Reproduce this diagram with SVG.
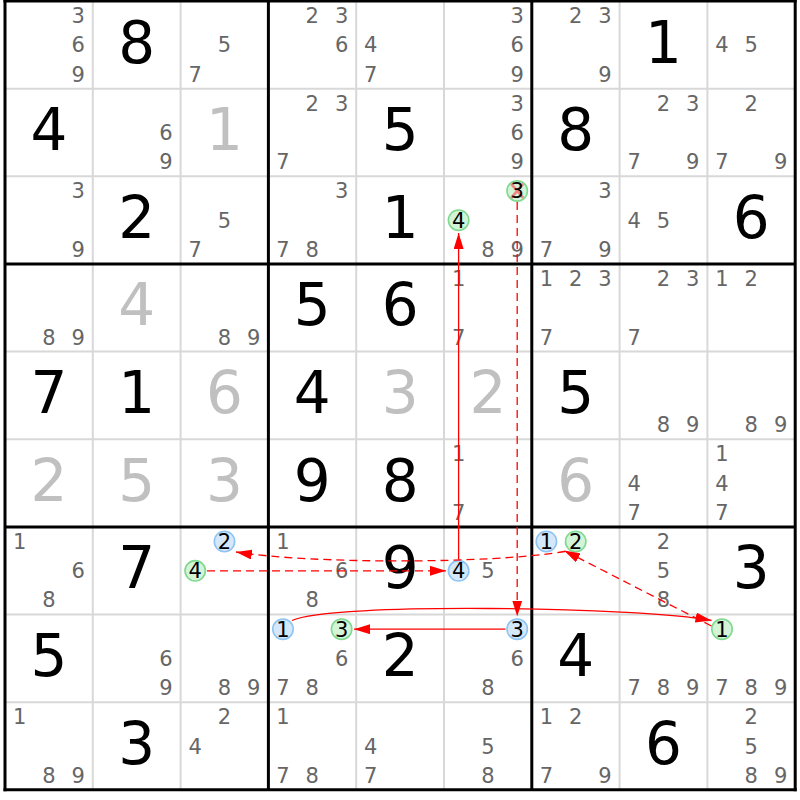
<svg xmlns="http://www.w3.org/2000/svg" width="800" height="800" viewBox="0 0 800 800">
<defs>
<style>
text{font-family:"DejaVu Sans","Liberation Sans",sans-serif;text-anchor:middle}
.c{font-size:21px;fill:#666}
.k{font-size:21px;fill:#000}
.g{font-size:58px;fill:#000}
.s{font-size:58px;fill:#c0c0c0}
.cb{fill:#d5e8fa;stroke:#8ec4f2;stroke-width:1.6}
.cg{fill:#d3f4d7;stroke:#7fd98f;stroke-width:1.6}
.thin{stroke:#d8d8d8;stroke-width:2}
.thick{stroke:#000;stroke-width:3}
.ln{fill:none;stroke:#f00;stroke-width:1.3}
.d{stroke-dasharray:8,5}
</style>
<marker id="ah" markerUnits="userSpaceOnUse" markerWidth="16" markerHeight="10" refX="16" refY="5" orient="auto"><path d="M0,0 L16,5 L0,10 Z" fill="#f00"/></marker>
</defs>
<rect width="800" height="800" fill="#fff"/>
<g id="grid">
<g class="thin">
<line x1="92.8" y1="1" x2="92.8" y2="789.9"/><line x1="180.6" y1="1" x2="180.6" y2="789.9"/>
<line x1="356.2" y1="1" x2="356.2" y2="789.9"/><line x1="444" y1="1" x2="444" y2="789.9"/>
<line x1="619.6" y1="1" x2="619.6" y2="789.9"/><line x1="707.4" y1="1" x2="707.4" y2="789.9"/>
<line x1="5" y1="88.65" x2="795.2" y2="88.65"/><line x1="5" y1="176.3" x2="795.2" y2="176.3"/>
<line x1="5" y1="351.6" x2="795.2" y2="351.6"/><line x1="5" y1="439.25" x2="795.2" y2="439.25"/>
<line x1="5" y1="614.55" x2="795.2" y2="614.55"/><line x1="5" y1="702.2" x2="795.2" y2="702.2"/>
</g>
<g class="thick">
<line x1="5" y1="-0.5" x2="5" y2="791.3"/><line x1="268.4" y1="1" x2="268.4" y2="789.9"/>
<line x1="531.8" y1="1" x2="531.8" y2="789.9"/><line x1="795.2" y1="-0.5" x2="795.2" y2="791.3"/>
<line x1="3.5" y1="1" x2="796.7" y2="1"/><line x1="5" y1="263.95" x2="795.2" y2="263.95"/>
<line x1="5" y1="526.9" x2="795.2" y2="526.9"/><line x1="3.5" y1="789.85" x2="796.7" y2="789.85"/>
</g>
</g>
<!-- row 1 -->
<g id="r1c1" transform="translate(5,1)"><text class="c" x="73.2" y="22.1">3</text><text class="c" x="73.2" y="51.4">6</text><text class="c" x="73.2" y="80.6">9</text></g>
<g id="r1c2" transform="translate(92.8,1)"><text class="g" x="43.9" y="61.5">8</text></g>
<g id="r1c3" transform="translate(180.6,1)"><text class="c" x="43.9" y="51.4">5</text><text class="c" x="14.6" y="80.6">7</text></g>
<g id="r1c4" transform="translate(268.4,1)"><text class="c" x="43.9" y="22.1">2</text><text class="c" x="73.2" y="22.1">3</text><text class="c" x="73.2" y="51.4">6</text></g>
<g id="r1c5" transform="translate(356.2,1)"><text class="c" x="14.6" y="51.4">4</text><text class="c" x="14.6" y="80.6">7</text></g>
<g id="r1c6" transform="translate(444,1)"><text class="c" x="73.2" y="22.1">3</text><text class="c" x="73.2" y="51.4">6</text><text class="c" x="73.2" y="80.6">9</text></g>
<g id="r1c7" transform="translate(531.8,1)"><text class="c" x="43.9" y="22.1">2</text><text class="c" x="73.2" y="22.1">3</text><text class="c" x="73.2" y="80.6">9</text></g>
<g id="r1c8" transform="translate(619.6,1)"><text class="g" x="43.9" y="61.5">1</text></g>
<g id="r1c9" transform="translate(707.4,1)"><text class="c" x="14.6" y="51.4">4</text><text class="c" x="43.9" y="51.4">5</text></g>
<!-- row 2 -->
<g id="r2c1" transform="translate(5,88.65)"><text class="g" x="43.9" y="61.5">4</text></g>
<g id="r2c2" transform="translate(92.8,88.65)"><text class="c" x="73.2" y="51.4">6</text><text class="c" x="73.2" y="80.6">9</text></g>
<g id="r2c3" transform="translate(180.6,88.65)"><text class="s" x="43.9" y="61.5">1</text></g>
<g id="r2c4" transform="translate(268.4,88.65)"><text class="c" x="43.9" y="22.1">2</text><text class="c" x="73.2" y="22.1">3</text><text class="c" x="14.6" y="80.6">7</text></g>
<g id="r2c5" transform="translate(356.2,88.65)"><text class="g" x="43.9" y="61.5">5</text></g>
<g id="r2c6" transform="translate(444,88.65)"><text class="c" x="73.2" y="22.1">3</text><text class="c" x="73.2" y="51.4">6</text><text class="c" x="73.2" y="80.6">9</text></g>
<g id="r2c7" transform="translate(531.8,88.65)"><text class="g" x="43.9" y="61.5">8</text></g>
<g id="r2c8" transform="translate(619.6,88.65)"><text class="c" x="43.9" y="22.1">2</text><text class="c" x="73.2" y="22.1">3</text><text class="c" x="14.6" y="80.6">7</text><text class="c" x="73.2" y="80.6">9</text></g>
<g id="r2c9" transform="translate(707.4,88.65)"><text class="c" x="43.9" y="22.1">2</text><text class="c" x="14.6" y="80.6">7</text><text class="c" x="73.2" y="80.6">9</text></g>
<!-- row 3 -->
<g id="r3c1" transform="translate(5,176.3)"><text class="c" x="73.2" y="22.1">3</text><text class="c" x="73.2" y="80.6">9</text></g>
<g id="r3c2" transform="translate(92.8,176.3)"><text class="g" x="43.9" y="61.5">2</text></g>
<g id="r3c3" transform="translate(180.6,176.3)"><text class="c" x="43.9" y="51.4">5</text><text class="c" x="14.6" y="80.6">7</text></g>
<g id="r3c4" transform="translate(268.4,176.3)"><text class="c" x="73.2" y="22.1">3</text><text class="c" x="14.6" y="80.6">7</text><text class="c" x="43.9" y="80.6">8</text></g>
<g id="r3c5" transform="translate(356.2,176.3)"><text class="g" x="43.9" y="61.5">1</text></g>
<g id="r3c6" transform="translate(444,176.3)"><circle class="cg" cx="73.2" cy="14.6" r="10.2"/><path d="M67.2,7.6 L79.2,21.6 M79.2,7.6 L67.2,21.6" stroke="#f08585" stroke-width="2.6" fill="none"/><text class="k" x="73.2" y="22.1">3</text><circle class="cg" cx="14.6" cy="43.9" r="10.2"/><text class="k" x="14.6" y="51.4">4</text><text class="c" x="43.9" y="80.6">8</text><text class="c" x="73.2" y="80.6">9</text></g>
<g id="r3c7" transform="translate(531.8,176.3)"><text class="c" x="73.2" y="22.1">3</text><text class="c" x="14.6" y="80.6">7</text><text class="c" x="73.2" y="80.6">9</text></g>
<g id="r3c8" transform="translate(619.6,176.3)"><text class="c" x="14.6" y="51.4">4</text><text class="c" x="43.9" y="51.4">5</text></g>
<g id="r3c9" transform="translate(707.4,176.3)"><text class="g" x="43.9" y="61.5">6</text></g>
<!-- row 4 -->
<g id="r4c1" transform="translate(5,263.95)"><text class="c" x="43.9" y="80.6">8</text><text class="c" x="73.2" y="80.6">9</text></g>
<g id="r4c2" transform="translate(92.8,263.95)"><text class="s" x="43.9" y="61.5">4</text></g>
<g id="r4c3" transform="translate(180.6,263.95)"><text class="c" x="43.9" y="80.6">8</text><text class="c" x="73.2" y="80.6">9</text></g>
<g id="r4c4" transform="translate(268.4,263.95)"><text class="g" x="43.9" y="61.5">5</text></g>
<g id="r4c5" transform="translate(356.2,263.95)"><text class="g" x="43.9" y="61.5">6</text></g>
<g id="r4c6" transform="translate(444,263.95)"><text class="c" x="14.6" y="22.1">1</text><text class="c" x="14.6" y="80.6">7</text></g>
<g id="r4c7" transform="translate(531.8,263.95)"><text class="c" x="14.6" y="22.1">1</text><text class="c" x="43.9" y="22.1">2</text><text class="c" x="73.2" y="22.1">3</text><text class="c" x="14.6" y="80.6">7</text></g>
<g id="r4c8" transform="translate(619.6,263.95)"><text class="c" x="43.9" y="22.1">2</text><text class="c" x="73.2" y="22.1">3</text><text class="c" x="14.6" y="80.6">7</text></g>
<g id="r4c9" transform="translate(707.4,263.95)"><text class="c" x="14.6" y="22.1">1</text><text class="c" x="43.9" y="22.1">2</text></g>
<!-- row 5 -->
<g id="r5c1" transform="translate(5,351.6)"><text class="g" x="43.9" y="61.5">7</text></g>
<g id="r5c2" transform="translate(92.8,351.6)"><text class="g" x="43.9" y="61.5">1</text></g>
<g id="r5c3" transform="translate(180.6,351.6)"><text class="s" x="43.9" y="61.5">6</text></g>
<g id="r5c4" transform="translate(268.4,351.6)"><text class="g" x="43.9" y="61.5">4</text></g>
<g id="r5c5" transform="translate(356.2,351.6)"><text class="s" x="43.9" y="61.5">3</text></g>
<g id="r5c6" transform="translate(444,351.6)"><text class="s" x="43.9" y="61.5">2</text></g>
<g id="r5c7" transform="translate(531.8,351.6)"><text class="g" x="43.9" y="61.5">5</text></g>
<g id="r5c8" transform="translate(619.6,351.6)"><text class="c" x="43.9" y="80.6">8</text><text class="c" x="73.2" y="80.6">9</text></g>
<g id="r5c9" transform="translate(707.4,351.6)"><text class="c" x="43.9" y="80.6">8</text><text class="c" x="73.2" y="80.6">9</text></g>
<!-- row 6 -->
<g id="r6c1" transform="translate(5,439.25)"><text class="s" x="43.9" y="61.5">2</text></g>
<g id="r6c2" transform="translate(92.8,439.25)"><text class="s" x="43.9" y="61.5">5</text></g>
<g id="r6c3" transform="translate(180.6,439.25)"><text class="s" x="43.9" y="61.5">3</text></g>
<g id="r6c4" transform="translate(268.4,439.25)"><text class="g" x="43.9" y="61.5">9</text></g>
<g id="r6c5" transform="translate(356.2,439.25)"><text class="g" x="43.9" y="61.5">8</text></g>
<g id="r6c6" transform="translate(444,439.25)"><text class="c" x="14.6" y="22.1">1</text><text class="c" x="14.6" y="80.6">7</text></g>
<g id="r6c7" transform="translate(531.8,439.25)"><text class="s" x="43.9" y="61.5">6</text></g>
<g id="r6c8" transform="translate(619.6,439.25)"><text class="c" x="14.6" y="51.4">4</text><text class="c" x="14.6" y="80.6">7</text></g>
<g id="r6c9" transform="translate(707.4,439.25)"><text class="c" x="14.6" y="22.1">1</text><text class="c" x="14.6" y="51.4">4</text><text class="c" x="14.6" y="80.6">7</text></g>
<!-- row 7 -->
<g id="r7c1" transform="translate(5,526.9)"><text class="c" x="14.6" y="22.1">1</text><text class="c" x="73.2" y="51.4">6</text><text class="c" x="43.9" y="80.6">8</text></g>
<g id="r7c2" transform="translate(92.8,526.9)"><text class="g" x="43.9" y="61.5">7</text></g>
<g id="r7c3" transform="translate(180.6,526.9)"><circle class="cb" cx="43.9" cy="14.6" r="10.2"/><text class="k" x="43.9" y="22.1">2</text><circle class="cg" cx="14.6" cy="43.9" r="10.2"/><text class="k" x="14.6" y="51.4">4</text></g>
<g id="r7c4" transform="translate(268.4,526.9)"><text class="c" x="14.6" y="22.1">1</text><text class="c" x="73.2" y="51.4">6</text><text class="c" x="43.9" y="80.6">8</text></g>
<g id="r7c5" transform="translate(356.2,526.9)"><text class="g" x="43.9" y="61.5">9</text></g>
<g id="r7c6" transform="translate(444,526.9)"><circle class="cb" cx="14.6" cy="43.9" r="10.2"/><text class="k" x="14.6" y="51.4">4</text><text class="c" x="43.9" y="51.4">5</text></g>
<g id="r7c7" transform="translate(531.8,526.9)"><circle class="cb" cx="14.6" cy="14.6" r="10.2"/><text class="k" x="14.6" y="22.1">1</text><circle class="cg" cx="43.9" cy="14.6" r="10.2"/><text class="k" x="43.9" y="22.1">2</text></g>
<g id="r7c8" transform="translate(619.6,526.9)"><text class="c" x="43.9" y="22.1">2</text><text class="c" x="43.9" y="51.4">5</text><text class="c" x="43.9" y="80.6">8</text></g>
<g id="r7c9" transform="translate(707.4,526.9)"><text class="g" x="43.9" y="61.5">3</text></g>
<!-- row 8 -->
<g id="r8c1" transform="translate(5,614.55)"><text class="g" x="43.9" y="61.5">5</text></g>
<g id="r8c2" transform="translate(92.8,614.55)"><text class="c" x="73.2" y="51.4">6</text><text class="c" x="73.2" y="80.6">9</text></g>
<g id="r8c3" transform="translate(180.6,614.55)"><text class="c" x="43.9" y="80.6">8</text><text class="c" x="73.2" y="80.6">9</text></g>
<g id="r8c4" transform="translate(268.4,614.55)"><circle class="cb" cx="14.6" cy="14.6" r="10.2"/><text class="k" x="14.6" y="22.1">1</text><circle class="cg" cx="73.2" cy="14.6" r="10.2"/><text class="k" x="73.2" y="22.1">3</text><text class="c" x="73.2" y="51.4">6</text><text class="c" x="14.6" y="80.6">7</text><text class="c" x="43.9" y="80.6">8</text></g>
<g id="r8c5" transform="translate(356.2,614.55)"><text class="g" x="43.9" y="61.5">2</text></g>
<g id="r8c6" transform="translate(444,614.55)"><circle class="cb" cx="73.2" cy="14.6" r="10.2"/><text class="k" x="73.2" y="22.1">3</text><text class="c" x="73.2" y="51.4">6</text><text class="c" x="43.9" y="80.6">8</text></g>
<g id="r8c7" transform="translate(531.8,614.55)"><text class="g" x="43.9" y="61.5">4</text></g>
<g id="r8c8" transform="translate(619.6,614.55)"><text class="c" x="14.6" y="80.6">7</text><text class="c" x="43.9" y="80.6">8</text><text class="c" x="73.2" y="80.6">9</text></g>
<g id="r8c9" transform="translate(707.4,614.55)"><circle class="cg" cx="14.6" cy="14.6" r="10.2"/><text class="k" x="14.6" y="22.1">1</text><text class="c" x="14.6" y="80.6">7</text><text class="c" x="43.9" y="80.6">8</text><text class="c" x="73.2" y="80.6">9</text></g>
<!-- row 9 -->
<g id="r9c1" transform="translate(5,702.2)"><text class="c" x="14.6" y="22.1">1</text><text class="c" x="43.9" y="80.6">8</text><text class="c" x="73.2" y="80.6">9</text></g>
<g id="r9c2" transform="translate(92.8,702.2)"><text class="g" x="43.9" y="61.5">3</text></g>
<g id="r9c3" transform="translate(180.6,702.2)"><text class="c" x="43.9" y="22.1">2</text><text class="c" x="14.6" y="51.4">4</text></g>
<g id="r9c4" transform="translate(268.4,702.2)"><text class="c" x="14.6" y="22.1">1</text><text class="c" x="14.6" y="80.6">7</text><text class="c" x="43.9" y="80.6">8</text></g>
<g id="r9c5" transform="translate(356.2,702.2)"><text class="c" x="14.6" y="51.4">4</text><text class="c" x="14.6" y="80.6">7</text></g>
<g id="r9c6" transform="translate(444,702.2)"><text class="c" x="43.9" y="51.4">5</text><text class="c" x="43.9" y="80.6">8</text></g>
<g id="r9c7" transform="translate(531.8,702.2)"><text class="c" x="14.6" y="22.1">1</text><text class="c" x="43.9" y="22.1">2</text><text class="c" x="14.6" y="80.6">7</text><text class="c" x="73.2" y="80.6">9</text></g>
<g id="r9c8" transform="translate(619.6,702.2)"><text class="g" x="43.9" y="61.5">6</text></g>
<g id="r9c9" transform="translate(707.4,702.2)"><text class="c" x="43.9" y="22.1">2</text><text class="c" x="43.9" y="51.4">5</text><text class="c" x="43.9" y="80.6">8</text><text class="c" x="73.2" y="80.6">9</text></g>
<g id="connectors">
<path class="ln d" d="M207,570.8 L446,570.8" marker-end="url(#ah)"/>
<path class="ln" d="M458.6,559.5 L458.6,233" marker-end="url(#ah)"/>
<path class="ln d" d="M517.2,202 L517.2,616.5" marker-end="url(#ah)"/>
<path class="ln" d="M505.5,629.2 L354,629.2" marker-end="url(#ah)"/>
<path class="ln" d="M292,620.5 C330,602 640,607 711.5,620.5" marker-end="url(#ah)"/>
<path class="ln d" d="M711.5,626 L564,550.5" marker-end="url(#ah)"/>
<path class="ln d" d="M565,551.5 C490,564 310,564 236,552" marker-end="url(#ah)"/>
</g>
</svg>
